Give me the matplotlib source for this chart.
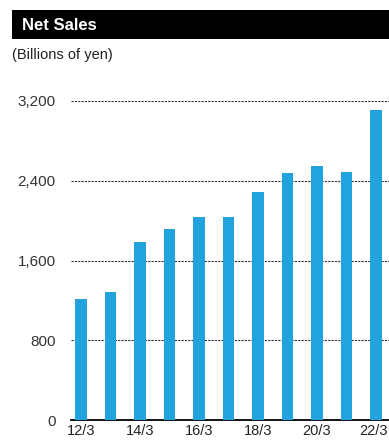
import matplotlib
matplotlib.use("Agg")
import matplotlib.pyplot as plt
from matplotlib import font_manager
from matplotlib.patches import Rectangle
import matplotlib.transforms as mtransforms

names = {f.name for f in font_manager.fontManager.ttflist}
fam = "Liberation Sans Narrow" if "Liberation Sans Narrow" in names else "Liberation Sans"
plt.rcParams['font.family'] = [fam, 'DejaVu Sans']

categories = ["12/3", "13/3", "14/3", "15/3", "16/3", "17/3", "18/3", "19/3", "20/3", "21/3", "22/3"]
net_sales = [1214, 1284, 1786, 1916, 2036, 2036, 2287, 2478, 2548, 2488, 3110]
yticks = [0, 800, 1600, 2400, 3200]
ytick_labels = ["0", "800", "1,600", "2,400", "3,200"]

W, H = 389, 443
fig = plt.figure(figsize=(W/100, H/100), dpi=100)

# title bar
fig.patches.append(Rectangle((12/W, 1-39/H), (W-12)/W, 29/H, transform=fig.transFigure,
                             facecolor="black", edgecolor="none"))
fig.text(22/W, 1-25/H, "Net Sales", color="white", fontsize=12, fontweight="bold",
         va="center", ha="left")
fig.text(12/W, 1-55/H, "(Billions of yen)", color="#222222", fontsize=10.5, va="center", ha="left")

ax = fig.add_axes([71/W, 1-420/H, (W-71)/W, (420-101)/H])
x = list(range(len(categories)))
ax.bar(x, net_sales, width=0.39, color="#22A3DE", zorder=3)
ax.set_xlim(-0.339, 10.44)
ax.set_ylim(0, 3200)
ax.set_yticks(yticks)
ax.set_yticklabels(ytick_labels)
ax.set_xticks(x[::2])
ax.set_xticklabels(categories[::2])
for s in ["top", "right", "left"]:
    ax.spines[s].set_visible(False)
ax.spines["bottom"].set_linewidth(1.3)
ax.spines["bottom"].set_color("black")
ax.tick_params(axis="y", length=0, labelsize=11, colors="#333333", pad=11)
ax.tick_params(axis="x", length=0, labelsize=10.5, colors="#222222", pad=3)
for t in yticks[1:]:
    ax.axhline(t, color="#333333", linestyle=(0, (2, 1)), linewidth=0.8, zorder=1)

last = ax.get_xticklabels()[-1]
last.set_transform(last.get_transform() + mtransforms.ScaledTranslation(-3/100, 0, fig.dpi_scale_trans))

fig.savefig("out.png", dpi=100)
